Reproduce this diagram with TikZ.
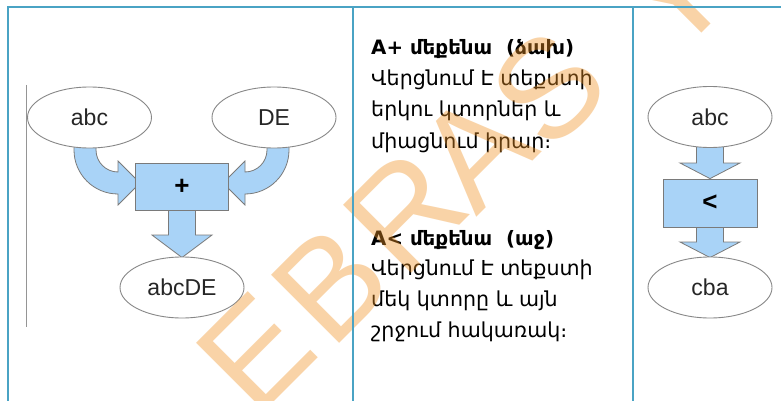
\documentclass[tikz,border=0pt]{standalone}
\usepackage{fontspec}
\setmainfont{Liberation Sans}
\newfontfamily\armfont{DejaVu Sans}
\usetikzlibrary{shapes.geometric,backgrounds,calc}
\definecolor{tblline}{HTML}{4AA3C4}
\definecolor{blockblue}{HTML}{A9D3F7}
\definecolor{edgegray}{HTML}{7A7A7A}
\definecolor{wmark}{HTML}{F09325}
\begin{document}
\begin{tikzpicture}[x=1pt,y=-1pt,
  oval/.style={ellipse,draw=edgegray!90,line width=0.9pt,fill=white,minimum width=124pt,minimum height=61pt,inner sep=0pt,font=\fontsize{23}{26}\selectfont,text=black!85},
  opbox/.style={rectangle,draw=edgegray,line width=0.8pt,fill=blockblue,minimum width=93pt,minimum height=47pt,inner sep=0pt,font=\bfseries\fontsize{26}{28}\selectfont},
  blk/.style={fill=blockblue,draw=edgegray,line width=0.8pt,line join=miter},
  armtxt/.style={anchor=base west,inner sep=0pt,font=\armfont\fontsize{20.6}{24}\selectfont},
  armbold/.style={armtxt,font=\armfont\bfseries\fontsize{19.8}{24}\selectfont},
  wm/.style={text=wmark,opacity=0.4,rotate=45,inner sep=0pt,font=\fontsize{140}{150}\selectfont},
  tbl/.style={draw=tblline,line width=1.4pt}
]
\useasboundingbox (0,0) rectangle (781,401);

% left diagram
\node[oval] (abc) at (89.5,117.5) {abc};
\node[oval] (de) at (274,117.5) {DE};
\node[opbox] (plus) at (182,187) {+};
\node[oval] (abcde) at (182,287.5) {abcDE};
\draw[edgegray!80,line width=0.8pt] (26,85) coordinate (gl1) -- (26,327) coordinate (gl2);

% right diagram
\node[oval] (rabc) at (710,117) {abc};
\node[opbox,minimum width=94pt,minimum height=48pt] (lt) at (710,203) {<};
\node[oval] (cba) at (710,287.5) {cba};

\begin{scope}[on background layer]
\fill[white] (0,0) rectangle (781,401);
\draw[blk] (74,140) -- (74,150) arc[start angle=180,end angle=90,radius=44]
  -- (118,205) -- (140,183) -- (118,161) -- (118,172)
  arc[start angle=90,end angle=180,radius=22] -- (96,140) -- cycle;
\draw[blk] (289,140) -- (289,150) arc[start angle=0,end angle=90,radius=44]
  -- (245,205) -- (223,183) -- (245,161) -- (245,172)
  arc[start angle=90,end angle=0,radius=22] -- (267,140) -- cycle;
\draw[blk] ($(plus.south)+(-13.5,-4)$) -- (168.5,235) -- (152,235) -- ($(abcde.north)+(0,1)$)
  -- (212,235) -- (195.5,235) -- ($(plus.south)+(13.5,-4)$) -- cycle;
\draw[blk] ($(rabc.south)+(-13.5,-8)$) -- (696.5,163) -- (680,163) -- ($(lt.north)+(0,0)$)
  -- (740,163) -- (723.5,163) -- ($(rabc.south)+(13.5,-8)$) -- cycle;
\draw[blk] ($(lt.south)+(-13.5,-6)$) -- (696.5,242) -- (680,242) -- ($(cba.north)+(0,1)$)
  -- (740,242) -- (723.5,242) -- ($(lt.south)+(13.5,-6)$) -- cycle;
\end{scope}

% middle text
\node[armbold] (t1) at (371,55) {A+ մեքենա\ \ (ձախ)};
\node[armtxt] (t2) at (371,86) {Վերցնում Է տեքստի};
\node[armtxt] (t3) at (371,117) {երկու կտորներ և};
\node[armtxt] (t4) at (371,148) {միացնում իրար։};
\node[armbold] (u1) at (371,245) {A< մեքենա\ \ (աջ)};
\node[armtxt] (u2) at (371,275) {Վերցնում Է տեքստի};
\node[armtxt] (u3) at (371,306) {մեկ կտորը և այն};
\node[armtxt] (u4) at (371,337) {շրջում հակառակ։};

% watermark
\node[wm] (w1) at (255,352) {E};
\node[wm] (w2) at (330,284) {B};
\node[wm] (w3) at (405,212) {R};
\node[wm] (w4) at (475,150) {A};
\node[wm] (w5) at (548,88) {S};
\node[wm] (w6) at (672,-6) {Y};

% table lines
\draw[tbl] (8,401) -- (8,7) -- (781,7);
\draw[tbl] (353,7) -- (353,401);
\draw[tbl] (633,7) -- (633,401);
\end{tikzpicture}
\end{document}
